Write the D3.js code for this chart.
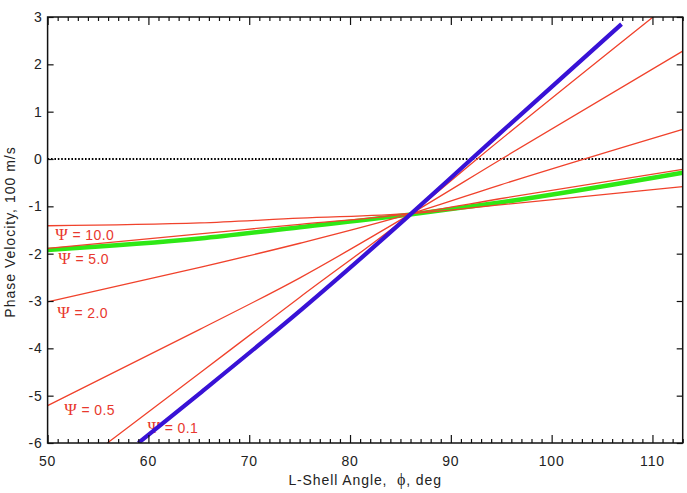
<!DOCTYPE html>
<html>
<head>
<meta charset="utf-8">
<script src="https://cdn.jsdelivr.net/npm/d3@7"></script>
<style>
  body { margin: 0; background: #fff; }
  text { font-family: "Liberation Sans", Arial, Helvetica, sans-serif; }
</style>
</head>
<body>
<div id="chart"></div>
<script>
// axis ranges and ticks
const xDomain = [50, 113];
const yDomain = [-6, 3];
const xTicks = [50, 60, 70, 80, 90, 100, 110];
const yTicks = [-6, -5, -4, -3, -2, -1, 0, 1, 2, 3];

// curves: [angle deg, phase velocity (100 m/s)]
const blueCurve = [[59.0, -6.0], [65.1, -4.95], [75.35, -3.15], [86.1, -1.15], [92.05, 0], [94.7, 0.51], [106.93, 2.85]];
const greenCurve = [[50, -1.92], [65.1, -1.68], [75.03, -1.44], [86.1, -1.17], [94.86, -0.92], [113, -0.29]];
const psi01 = [[55.92, -6], [65.1, -4.52], [75.03, -2.92], [86.1, -1.15], [92.6, 0], [110.06, 3]];
const psi05 = [[50, -5.21], [65.1, -3.6], [75.03, -2.51], [86.1, -1.15], [94.86, -0.02], [113, 2.28]];
const psi20 = [[50, -3.02], [65.1, -2.29], [75.03, -1.78], [86.1, -1.15], [94.86, -0.55], [113, 0.627]];
const psi50 = [[50, -1.89], [65.1, -1.58], [75.03, -1.38], [86.1, -1.15], [94.86, -0.84], [113, -0.218]];
const psi100 = [[50, -1.41], [65.1, -1.35], [75.03, -1.25], [86.1, -1.15], [94.86, -0.97], [113, -0.585]];

const psiValues = ["10.0", "5.0", "2.0", "0.5", "0.1"];
const psiLabelAt = [[50.75, -1.71], [51.05, -2.22], [50.95, -3.36], [51.65, -5.41], [59.9, -5.79]];

const width = 687, height = 493;
const margin = { top: 17, right: 4.3, bottom: 50, left: 47.6 };

const x = d3.scaleLinear().domain(xDomain).range([margin.left, width - margin.right]);
const y = d3.scaleLinear().domain(yDomain).range([height - margin.bottom, margin.top]);

const svg = d3.select("#chart").append("svg")
  .attr("width", width)
  .attr("height", height);

const plot = svg.append("g");

svg.append("clipPath").attr("id", "clip")
  .append("rect")
  .attr("x", x(xDomain[0])).attr("y", y(yDomain[1]))
  .attr("width", x(xDomain[1]) - x(xDomain[0]))
  .attr("height", y(yDomain[0]) - y(yDomain[1]));

// zero line
plot.append("line")
  .attr("x1", x(xDomain[0])).attr("x2", x(xDomain[1]))
  .attr("y1", y(0)).attr("y2", y(0))
  .attr("stroke", "#000")
  .attr("stroke-width", 2)
  .attr("stroke-dasharray", "1.6,1.8");

// labels sit under the lines
const labels = plot.append("g")
  .attr("fill", "#e8382e")
  .style("font-size", "14px")
  .style("letter-spacing", "0.4px");
psiValues.forEach((v, i) => {
  const t = labels.append("text")
    .attr("x", x(psiLabelAt[i][0]))
    .attr("y", y(psiLabelAt[i][1]));
  t.append("tspan").style("font-family", "'Liberation Serif', 'Times New Roman', serif").style("font-size", "17px").text("Ψ");
  t.append("tspan").text(" = " + v);
});

const line = d3.line()
  .x(d => x(d[0]))
  .y(d => y(d[1]))
  .curve(d3.curveMonotoneX);

const lines = plot.append("g").attr("clip-path", "url(#clip)").attr("fill", "none");

lines.append("path")
  .attr("d", line(greenCurve))
  .attr("stroke", "#2ee815")
  .attr("stroke-width", 4.5);

[psi100, psi50, psi20, psi05, psi01].forEach(c => {
  lines.append("path")
    .attr("d", line(c))
    .attr("stroke", "#f0422c")
    .attr("stroke-width", 1.3);
});

lines.append("path")
  .attr("d", line(blueCurve))
  .attr("stroke", "#3812d6")
  .attr("stroke-width", 4.2);

// axes with inward ticks
const xMinor = d3.range(xDomain[0], xDomain[1] + 0.001, 1).filter(v => v % 10 !== 0);

const axBottom = svg.append("g").attr("transform", `translate(0,${y(yDomain[0])})`);
axBottom.call(d3.axisTop(x).tickValues(xMinor).tickSize(4).tickFormat(""));
axBottom.append("g").call(d3.axisTop(x).tickValues(xTicks).tickSize(8).tickFormat(""));

const axTop = svg.append("g").attr("transform", `translate(0,${y(yDomain[1])})`);
axTop.call(d3.axisBottom(x).tickValues(xMinor).tickSize(4).tickFormat(""));
axTop.append("g").call(d3.axisBottom(x).tickValues(xTicks).tickSize(8).tickFormat(""));

const axLeft = svg.append("g").attr("transform", `translate(${x(xDomain[0])},0)`);
axLeft.call(d3.axisRight(y).tickValues(yTicks).tickSize(6).tickFormat(""));

const axRight = svg.append("g").attr("transform", `translate(${x(xDomain[1])},0)`);
axRight.call(d3.axisLeft(y).tickValues(yTicks).tickSize(6).tickFormat(""));

svg.selectAll(".domain").remove();
svg.selectAll(".tick line").attr("stroke", "#111").attr("stroke-width", 1.2);

// frame
svg.append("rect")
  .attr("x", x(xDomain[0])).attr("y", y(yDomain[1]))
  .attr("width", x(xDomain[1]) - x(xDomain[0]))
  .attr("height", y(yDomain[0]) - y(yDomain[1]))
  .attr("fill", "none")
  .attr("stroke", "#111")
  .attr("stroke-width", 1.5);

// tick labels
svg.append("g").selectAll("text")
  .data(xTicks)
  .join("text")
  .attr("x", d => x(d))
  .attr("y", y(yDomain[0]) + 23)
  .attr("text-anchor", "middle")
  .style("font-size", "14px")
  .style("letter-spacing", "0.8px")
  .attr("fill", "#222")
  .text(d => d);

svg.append("g").selectAll("text")
  .data(yTicks)
  .join("text")
  .attr("x", x(xDomain[0]) - 5)
  .attr("y", d => y(d) + 5)
  .attr("text-anchor", "end")
  .style("font-size", "14px")
  .style("letter-spacing", "0.8px")
  .attr("fill", "#222")
  .text(d => d);

// axis titles
const xTitle = svg.append("text")
  .attr("x", (x(xDomain[0]) + x(xDomain[1])) / 2)
  .attr("y", height - 8)
  .attr("text-anchor", "middle")
  .style("font-size", "14px")
  .style("letter-spacing", "0.9px")
  .style("white-space", "pre")
  .attr("fill", "#222");
xTitle.append("tspan").text("L-Shell Angle,  ");
xTitle.append("tspan").style("font-family", "'Liberation Serif', serif").style("font-size", "16px").text("ϕ");
xTitle.append("tspan").text(", deg");

svg.append("text")
  .attr("transform", `translate(15,${(y(yDomain[0]) + y(yDomain[1])) / 2 + 2}) rotate(-90)`)
  .attr("text-anchor", "middle")
  .style("font-size", "14px")
  .style("letter-spacing", "1px")
  .attr("fill", "#222")
  .text("Phase Velocity, 100 m/s");
</script>
</body>
</html>
